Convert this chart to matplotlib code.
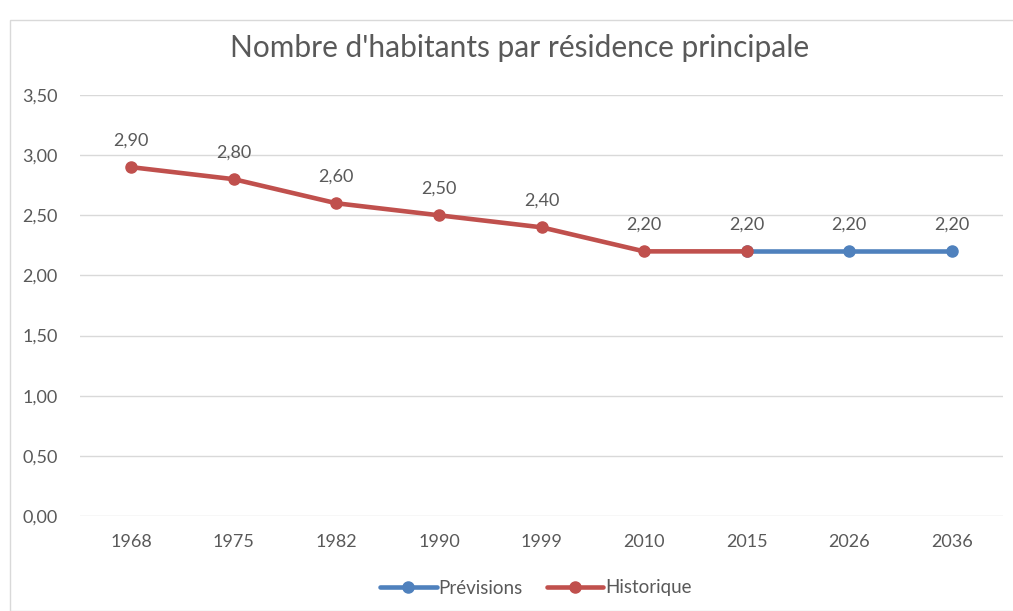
import matplotlib.pyplot as plt
from matplotlib.patches import Rectangle

# data
years = ['1968', '1975', '1982', '1990', '1999', '2010', '2015', '2026', '2036']
historique = [2.90, 2.80, 2.60, 2.50, 2.40, 2.20, 2.20]
previsions = [2.20, 2.20, 2.20]
prev_start = 6
y_ticks = [0.0, 0.5, 1.0, 1.5, 2.0, 2.5, 3.0, 3.5]

BLUE = '#4F81BD'
RED = '#C0504D'
TEXT = '#595959'
GRID = '#D9D9D9'

plt.rcParams['font.family'] = ['Lato', 'DejaVu Sans']


def fr(v):
    return '{:.2f}'.format(v).replace('.', ',')


fig = plt.figure(figsize=(10.13, 6.11), dpi=100)
W, H = 1013, 611
ax = fig.add_axes([80 / W, 1 - 516 / H, (1003 - 80) / W, (516 - 95) / H])

# outer chart border
fig.patches.append(Rectangle((10 / W, 0), 1 - 10 / W + 0.01, 1 - 20 / H,
                             transform=fig.transFigure, fill=False,
                             edgecolor=GRID, linewidth=1))

x_prev = list(range(prev_start, prev_start + len(previsions)))
x_hist = list(range(len(historique)))

ax.plot(x_prev, previsions, color=BLUE, lw=3.3, marker='o', ms=8,
        solid_capstyle='round', label='Prévisions', zorder=3)
ax.plot(x_hist, historique, color=RED, lw=3.3, marker='o', ms=8,
        solid_capstyle='round', label='Historique', zorder=4)

labels = {}
for x, v in zip(x_hist, historique):
    labels[x] = v
for x, v in zip(x_prev, previsions):
    labels.setdefault(x, v)
for x, v in labels.items():
    ax.annotate(fr(v), (x, v), xytext=(0, 19), textcoords='offset points',
                ha='center', va='center', fontsize=13, color=TEXT)

ax.set_xlim(-0.5, len(years) - 0.5)
ax.set_ylim(0, 3.5)
ax.set_xticks(range(len(years)))
ax.set_xticklabels(years)
ax.set_yticks(y_ticks)
ax.set_yticklabels([fr(v) for v in y_ticks])
ax.tick_params(length=0, labelsize=13, labelcolor=TEXT)
ax.tick_params(axis='x', pad=13)
ax.tick_params(axis='y', pad=16)
ax.grid(axis='y', color=GRID, lw=1)
ax.set_axisbelow(True)
for s in ax.spines.values():
    s.set_visible(False)

fig.text(520 / W, 1 - 48 / H, "Nombre d'habitants par résidence principale",
         ha='center', va='center', fontsize=21.5, color=TEXT)

ax.legend(loc='center', bbox_to_anchor=(536 / W, 1 - 588 / H),
          bbox_transform=fig.transFigure, ncol=2, frameon=False,
          fontsize=13.5, labelcolor=TEXT, handlelength=3.0, columnspacing=1.3,
          handletextpad=0.1)

fig.savefig('out.png', dpi=100)
